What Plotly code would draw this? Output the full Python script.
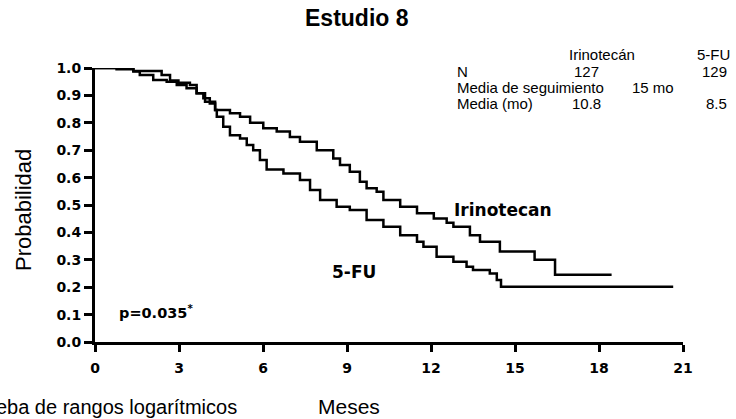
import plotly.graph_objects as go

# ---- data ----
irino_t = [0, 0.77, 1.37, 1.6, 2.08, 2.56, 2.92, 3.27, 3.63, 3.87, 4.1, 4.29, 4.82, 5.18, 5.54,
           6.01, 6.49, 6.96, 7.32, 7.92, 8.51, 8.75, 9.1, 9.46, 9.7, 10.06, 10.3, 10.9, 11.5,
           12.1, 12.56, 12.8, 13.39, 13.75, 14.46, 15.7, 16.43, 18.45]
irino_s = [1.0, 0.995, 0.987, 0.974, 0.956, 0.95, 0.938, 0.926, 0.908, 0.89, 0.87, 0.847, 0.835,
           0.822, 0.80, 0.78, 0.768, 0.748, 0.731, 0.70, 0.67, 0.646, 0.621, 0.585, 0.561, 0.548,
           0.518, 0.494, 0.47, 0.451, 0.435, 0.421, 0.39, 0.366, 0.33, 0.30, 0.245, 0.245]

fu_t = [0, 1.37, 2.38, 2.68, 2.98, 3.39, 3.63, 3.93, 4.29, 4.35, 4.58, 4.82, 5.18, 5.42, 5.65,
        5.89, 6.13, 6.73, 7.32, 7.68, 8.04, 8.63, 9.1, 9.7, 10.3, 10.9, 11.5, 11.73, 12.2, 12.8,
        13.27, 13.5, 14.1, 14.35, 14.5, 20.65]
fu_s = [1.0, 0.989, 0.974, 0.954, 0.946, 0.938, 0.908, 0.877, 0.847, 0.822, 0.786, 0.755, 0.743,
        0.719, 0.70, 0.664, 0.63, 0.615, 0.591, 0.555, 0.518, 0.494, 0.482, 0.445, 0.421, 0.39,
        0.366, 0.348, 0.311, 0.293, 0.275, 0.263, 0.25, 0.226, 0.202, 0.202]

x_ticks = [0, 3, 6, 9, 12, 15, 18, 21]
y_ticks = [0.0, 0.1, 0.2, 0.3, 0.4, 0.5, 0.6, 0.7, 0.8, 0.9, 1.0]

table_rows = ["N", "Media de seguimiento", "Media (mo)"]
table_cols = ["Irinotecán", "5-FU"]
irino_col = ["127", "", "10.8"]
fu_col = ["129", "", "8.5"]
follow_up = "15 mo"

W, H = 736, 419
L, R, T, B = 95, 53, 68, 77
PW, PH = W - L - R, H - T - B

def px(x):
    return (x - L) / PW

def py(y):
    return (H - B - y) / PH

FONT = "Liberation Sans, Arial, sans-serif"
BOLDFONT = "DejaVu Sans, Verdana, sans-serif"

fig = go.Figure()
for t, s, name in [(irino_t, irino_s, "Irinotecan"), (fu_t, fu_s, "5-FU")]:
    fig.add_trace(go.Scatter(x=t, y=s, mode="lines", line=dict(color="black", width=2.5, shape="hv"),
                             name=name, showlegend=False, cliponaxis=False))

fig.update_layout(
    width=W, height=H,
    margin=dict(l=L, r=R, t=T, b=B),
    paper_bgcolor="white", plot_bgcolor="white",
    font=dict(family=FONT, color="black"),
    xaxis=dict(range=[0, 21], tickvals=x_ticks, showline=True, linewidth=3, linecolor="black",
               ticks="outside", ticklen=7, tickwidth=2.5, tickcolor="black", showgrid=False,
               zeroline=False, tickfont=dict(size=14, weight=700, family=BOLDFONT),
               ticklabelstandoff=4),
    yaxis=dict(range=[0, 1], tickvals=y_ticks, tickformat=".1f", showline=True, linewidth=3,
               linecolor="black", ticks="outside", ticklen=8, tickwidth=2.5, tickcolor="black",
               showgrid=False, zeroline=False,
               tickfont=dict(size=14, weight=700, family=BOLDFONT)),
)

ann = []
def add(text, x, y, size=15, bold=False, xanchor="left", angle=0, family=FONT):
    ann.append(dict(text=text, x=px(x), y=py(y), xref="paper", yref="paper", showarrow=False,
                    xanchor=xanchor, yanchor="middle", textangle=angle,
                    font=dict(size=size, weight=700 if bold else 400, color="black", family=family)))

add("Estudio 8", 357, 18, size=23, bold=True, xanchor="center")
add("Probabilidad", 24, 210, size=22, angle=-90, xanchor="center")
add("Meses", 349, 407, size=21, xanchor="center")
add("*Prueba de rangos logarítmicos", 239, 407, size=20, xanchor="right")
add("p=0.035<sup>*</sup>", 117, 312, size=14.5, bold=True, family=BOLDFONT)
add("Irinotecan", 452, 210, size=17, bold=True, family=BOLDFONT)
add("5-FU", 330, 272, size=17, bold=True, family=BOLDFONT)

add(table_cols[0], 602, 55, xanchor="center")
add(table_cols[1], 713, 55, xanchor="center")
for i, row in enumerate(table_rows):
    yy = 71 + i * 16
    add(row, 455, yy)
    if irino_col[i]:
        add(irino_col[i], 586, yy, xanchor="center")
    if fu_col[i]:
        add(fu_col[i], 729, yy, xanchor="right")
add(follow_up, 653, 87, xanchor="center")

fig.update_layout(annotations=ann)
fig.write_html("out.html")
